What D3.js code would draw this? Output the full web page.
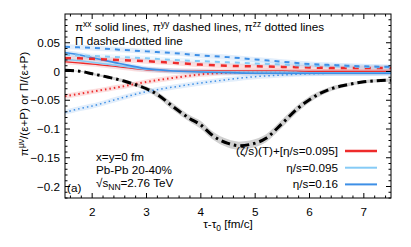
<!DOCTYPE html>
<html>
<head>
<meta charset="utf-8">
<script src="https://cdn.jsdelivr.net/npm/d3@7"></script>
<style>
  body { margin: 0; background: #fff; }
  svg text { font-family: "Liberation Sans", Arial, sans-serif; font-size: 11.7px; fill: #000; }
</style>
</head>
<body>
<svg id="chart" width="411" height="247"></svg>
<script>
// tau grid shared by the viscous stress curves
var tau = [1.5, 1.75, 2, 2.5, 3, 3.5, 4, 4.5, 5, 5.5, 6, 6.5, 7, 7.5];

// pi^xx (solid)
var xxBlue  = [0.033, 0.029, 0.024, 0.014, 0.005, 0.001, -0.001, -0.002, -0.003, -0.003, -0.003, -0.003, -0.003, -0.003];
var xxLight = [0.021, 0.019, 0.016, 0.010, 0.004, 0.001, 0.000, -0.001, -0.001, -0.001, -0.002, -0.002, -0.002, -0.002];
var xxRed   = [0.017, 0.015, 0.013, 0.008, 0.003, 0.001, 0.001, 0.001, 0.001, 0.001, 0.000, 0.000, 0.000, 0.000];

// pi^yy (dashed)
var yyBlue  = [0.043, 0.042, 0.041, 0.038, 0.035, 0.032, 0.028, 0.025, 0.021, 0.017, 0.013, 0.011, 0.009, 0.008];
var yyLight = [0.029, 0.028, 0.027, 0.025, 0.023, 0.020, 0.018, 0.016, 0.014, 0.012, 0.010, 0.009, 0.008, 0.007];
var yyRed   = [0.023, 0.023, 0.022, 0.020, 0.018, 0.015, 0.012, 0.010, 0.009, 0.008, 0.007, 0.006, 0.006, 0.006];

// pi^zz (dotted)
var zzBlue  = [-0.071, -0.065, -0.060, -0.047, -0.035, -0.027, -0.020, -0.014, -0.009, -0.006, -0.004, -0.003, -0.003, -0.002];
var zzRed   = [-0.043, -0.039, -0.035, -0.027, -0.018, -0.011, -0.005, -0.002, -0.001, -0.001, -0.001, -0.001, -0.001, -0.001];

// bulk pressure Pi (dash-dotted) with its grey band
var tauPi  = [1.5, 1.8, 2.0, 2.3, 2.6, 2.8, 3.0, 3.2, 3.5, 3.8, 4.0, 4.2, 4.5, 4.7, 4.9, 5.2, 5.5, 5.8, 6.1, 6.4, 6.7, 7.0, 7.5];
var piVal  = [0.002, 0.000, -0.004, -0.010, -0.017, -0.023, -0.030, -0.040, -0.062, -0.082, -0.093, -0.110, -0.125, -0.129, -0.127, -0.116, -0.090, -0.063, -0.043, -0.030, -0.023, -0.018, -0.015];
var piBand = [0.001, 0.001, 0.002, 0.002, 0.003, 0.003, 0.004, 0.005, 0.006, 0.006, 0.007, 0.007, 0.007, 0.007, 0.007, 0.007, 0.007, 0.006, 0.005, 0.004, 0.003, 0.003, 0.003];

var xTicks = [2, 3, 4, 5, 6, 7];
var yTicks = [0.05, 0, -0.05, -0.1, -0.15, -0.2];
var legendLabels = ["(\u03B6/s)(T)+[\u03B7/s=0.095]", "\u03B7/s=0.095", "\u03B7/s=0.16"];

var red = "#ee2b2b", light = "#86cbf6", blue = "#3d8fe6";

var svg = d3.select("#chart"),
    margin = {left: 65, right: 20, top: 14, bottom: 49},
    width = 411 - margin.left - margin.right,
    height = 247 - margin.top - margin.bottom;

var x = d3.scaleLinear().domain([1.5, 7.5]).range([margin.left, margin.left + width]);
var y = d3.scaleLinear().domain([-0.22, 0.1]).range([margin.top + height, margin.top]);

var defs = svg.append("defs");
defs.append("clipPath").attr("id", "clip")
    .append("rect")
    .attr("x", margin.left).attr("y", margin.top)
    .attr("width", width).attr("height", height);

var plot = svg.append("g").attr("clip-path", "url(#clip)");

var line = d3.line()
    .x(function(d) { return x(d[0]); })
    .y(function(d) { return y(d[1]); })
    .curve(d3.curveMonotoneX);

function pairs(xs, ys) {
    return xs.map(function(v, i) { return [v, ys[i]]; });
}

// Pi band
var band = d3.area()
    .x(function(d, i) { return x(tauPi[i]); })
    .y0(function(d, i) { return y(piVal[i] - piBand[i]); })
    .y1(function(d, i) { return y(piVal[i] + piBand[i]); })
    .curve(d3.curveMonotoneX);
plot.append("path").datum(piVal).attr("d", band).attr("fill", "#d0d0d0");

var series = [
    {v: zzBlue,  c: blue,  dash: "1.5,3", w: 1.5},
    {v: zzRed,   c: red,   dash: "1.5,3", w: 2},
    {v: xxRed,   c: red,   dash: null,    w: 1.3},
    {v: xxLight, c: light, dash: null,    w: 1.5},
    {v: xxBlue,  c: blue,  dash: null,    w: 1.6},
    {v: yyRed,   c: red,   dash: "6,6",   w: 2.5},
    {v: yyLight, c: light, dash: "5,5",   w: 2},
    {v: yyBlue,  c: blue,  dash: "5,5",   w: 2}
];

// faint shaded bands under each curve
series.forEach(function(s) {
    plot.append("path")
        .datum(pairs(tau, s.v))
        .attr("d", line)
        .attr("fill", "none")
        .attr("stroke", s.c)
        .attr("stroke-opacity", 0.15)
        .attr("stroke-width", 5);
});
series.forEach(function(s) {
    plot.append("path")
        .datum(pairs(tau, s.v))
        .attr("d", line)
        .attr("fill", "none")
        .attr("stroke", s.c)
        .attr("stroke-width", s.w)
        .attr("stroke-dasharray", s.dash);
});

plot.append("path")
    .datum(pairs(tauPi, piVal))
    .attr("d", line)
    .attr("fill", "none")
    .attr("stroke", "#000")
    .attr("stroke-width", 3)
    .attr("stroke-dasharray", "9,4,2.5,4");

// frame
svg.append("rect")
    .attr("x", margin.left).attr("y", margin.top)
    .attr("width", width).attr("height", height)
    .attr("fill", "none").attr("stroke", "#000").attr("stroke-width", 1);

// ticks (inward on all sides)
var xMinor = d3.range(1.6, 7.5, 0.2).filter(function(v) { return Math.abs(v - Math.round(v)) > 0.01; });
var yMinor = d3.range(-0.22, 0.1, 0.01).filter(function(v) { return Math.abs(v * 20 - Math.round(v * 20)) > 0.01; });
var tk = svg.append("g").attr("stroke", "#000").attr("stroke-width", 1);
function xt(v, len) {
    tk.append("line").attr("x1", x(v)).attr("x2", x(v)).attr("y1", y.range()[0]).attr("y2", y.range()[0] - len);
    tk.append("line").attr("x1", x(v)).attr("x2", x(v)).attr("y1", y.range()[1]).attr("y2", y.range()[1] + len);
}
function yt(v, len) {
    tk.append("line").attr("y1", y(v)).attr("y2", y(v)).attr("x1", x.range()[0]).attr("x2", x.range()[0] + len);
    tk.append("line").attr("y1", y(v)).attr("y2", y(v)).attr("x1", x.range()[1]).attr("x2", x.range()[1] - len);
}
xTicks.forEach(function(v) { xt(v, 5); });
xMinor.forEach(function(v) { xt(v, 2.5); });
yTicks.forEach(function(v) { yt(v, 5); });
yMinor.forEach(function(v) { yt(v, 2.5); });

// tick labels
svg.append("g").selectAll("text").data(xTicks).enter().append("text")
    .attr("x", function(d) { return x(d); })
    .attr("y", 216)
    .attr("text-anchor", "middle")
    .text(function(d) { return d; });
svg.append("g").selectAll("text").data(yTicks).enter().append("text")
    .attr("x", 60)
    .attr("y", function(d) { return y(d) + 4; })
    .attr("text-anchor", "end")
    .text(function(d) { return d === 0 ? "0" : d3.format("")(d); });

// axis titles
var xl = svg.append("text").attr("x", 228).attr("y", 228).attr("text-anchor", "middle");
xl.append("tspan").text("\u03C4-\u03C4");
xl.append("tspan").attr("font-size", "8.5px").attr("dy", 3).text("0");
xl.append("tspan").attr("dy", -3).text(" [fm/c]");

var yl = svg.append("text").attr("transform", "translate(28,104) rotate(-90)").attr("text-anchor", "middle");
yl.append("tspan").text("\u03C0");
yl.append("tspan").attr("font-size", "8.5px").attr("dy", -4).text("\u03BC\u03BD");
yl.append("tspan").attr("dy", 4).text("/(\u03B5+P) or \u03A0/(\u03B5+P)");

// annotations
var t1 = svg.append("text").attr("x", 75).attr("y", 31);
t1.append("tspan").text("\u03C0");
t1.append("tspan").attr("font-size", "8.5px").attr("dy", -4).text("xx");
t1.append("tspan").attr("dy", 4).text(" solid lines, \u03C0");
t1.append("tspan").attr("font-size", "8.5px").attr("dy", -4).text("yy");
t1.append("tspan").attr("dy", 4).text(" dashed lines, \u03C0");
t1.append("tspan").attr("font-size", "8.5px").attr("dy", -4).text("zz");
t1.append("tspan").attr("dy", 4).text(" dotted lines");
svg.append("text").attr("x", 75).attr("y", 45).text("\u03A0 dashed-dotted line");

svg.append("text").attr("x", 96).attr("y", 161).text("x=y=0 fm");
svg.append("text").attr("x", 96).attr("y", 174).text("Pb-Pb 20-40%");
var t3 = svg.append("text").attr("x", 96).attr("y", 187);
t3.append("tspan").text("\u221As");
t3.append("tspan").attr("font-size", "8.5px").attr("dy", 3).text("NN");
t3.append("tspan").attr("dy", -3).text("=2.76 TeV");
svg.append("text").attr("x", 67).attr("y", 192).text("(a)");

// legend
var legColors = [red, light, blue];
var leg = svg.append("g").selectAll("g").data(legendLabels).enter().append("g")
    .attr("transform", function(d, i) { return "translate(0," + (151 + i * 16.7) + ")"; });
leg.append("text").attr("x", 338).attr("y", 4).attr("text-anchor", "end").text(function(d) { return d; });
leg.append("line").attr("x1", 345).attr("x2", 377).attr("y1", 0).attr("y2", 0)
    .attr("stroke", function(d, i) { return legColors[i]; })
    .attr("stroke-width", function(d, i) { return i === 0 ? 2.5 : 2; });
</script>
</body>
</html>
